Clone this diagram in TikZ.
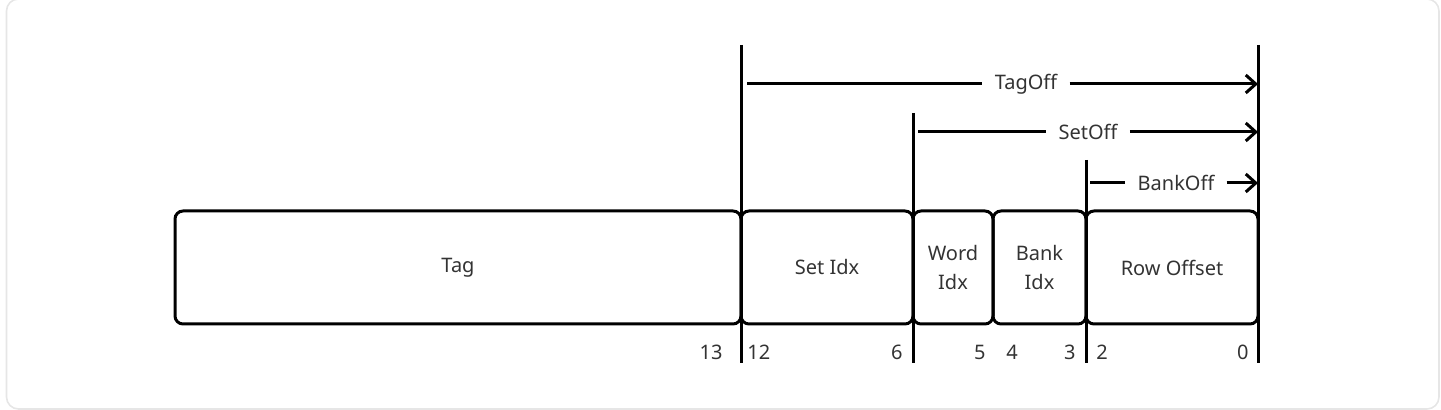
\documentclass[tikz,border=0pt]{standalone}
\usepackage{fontspec}
\setmainfont{Noto Sans}
\usetikzlibrary{arrows.meta}
\definecolor{txt}{HTML}{333333}
\definecolor{frame}{HTML}{E6E6E6}
\begin{document}
\begin{tikzpicture}[x=0.5pt,y=-0.5pt,
  field/.style={draw=black, line width=1.5pt, rounded corners=4pt, minimum height=56.5pt, inner sep=0pt, outer sep=0pt, text=txt, font=\fontsize{10}{14.5}\selectfont, align=center},
  divider/.style={line width=1.5pt, draw=black},
  offarrow/.style={line width=1.5pt, -{Straight Barb[length=5pt,width=9pt,line width=1.5pt]}},
  offline/.style={line width=1.5pt},
  offlabel/.style={inner ysep=0pt, inner xsep=6pt, text=txt, font=\fontsize{10}{12}\selectfont},
  bitnum/.style={inner sep=0pt, text=txt, font=\fontsize{10}{12}\selectfont}]
\useasboundingbox (0,0) rectangle (1441,410);
\draw[frame, line width=0.8pt, rounded corners=6pt] (6.5,-1) rectangle (1439,409);

% fields
\node[field, minimum width=283pt] (tag) at (458,267.5) {Tag};
\node[field, minimum width=86pt] (set) at (827,267.5) {Set Idx};
\node[field, minimum width=40pt] (word) at (953,267.5) {Word\\Idx};
\node[field, minimum width=46.5pt] (bank) at (1039.5,267.5) {Bank\\Idx};
\node[field, minimum width=86pt] (row) at (1172,267.5) {Row Offset};

% divider lines
\coordinate (d1t) at (741,45);   \coordinate (d1b) at (741,363);
\coordinate (d2t) at (913,113);  \coordinate (d2b) at (913,363);
\coordinate (d3t) at (1086,160); \coordinate (d3b) at (1086,363);
\coordinate (d4t) at (1258,45);  \coordinate (d4b) at (1258,363);
\draw[divider] (d1t) -- (d1b);
\draw[divider] (d2t) -- (d2b);
\draw[divider] (d3t) -- (d3b);
\draw[divider] (d4t) -- (d4b);

% offset arrows
\node[offlabel] (tagoff) at (1026,84) {TagOff};
\coordinate (tags) at (747,84); \coordinate (tage) at (1258,84);
\draw[offline] (tags) -- (tagoff.west);
\draw[offarrow] (tagoff.east) -- (tage);

\node[offlabel] (setoff) at (1088,132) {SetOff};
\coordinate (sets) at (918,132); \coordinate (sete) at (1258,132);
\draw[offline] (sets) -- (setoff.west);
\draw[offarrow] (setoff.east) -- (sete);

\node[offlabel] (bankoff) at (1176,183) {BankOff};
\coordinate (banks) at (1090,183); \coordinate (banke) at (1258,183);
\draw[offline] (banks) -- (bankoff.west);
\draw[offarrow] (bankoff.east) -- (banke);

% bit numbers
\node[bitnum, anchor=east] (b13) at (723,352) {13};
\node[bitnum, anchor=west] (b12) at (747,352) {12};
\node[bitnum, anchor=east] (b6) at (903,352) {6};
\node[bitnum, anchor=east] (b5) at (986,352) {5};
\node[bitnum, anchor=west] (b4) at (1006,352) {4};
\node[bitnum, anchor=east] (b3) at (1076,352) {3};
\node[bitnum, anchor=west] (b2) at (1096,352) {2};
\node[bitnum, anchor=east] (b0) at (1249,352) {0};
\end{tikzpicture}
\end{document}
